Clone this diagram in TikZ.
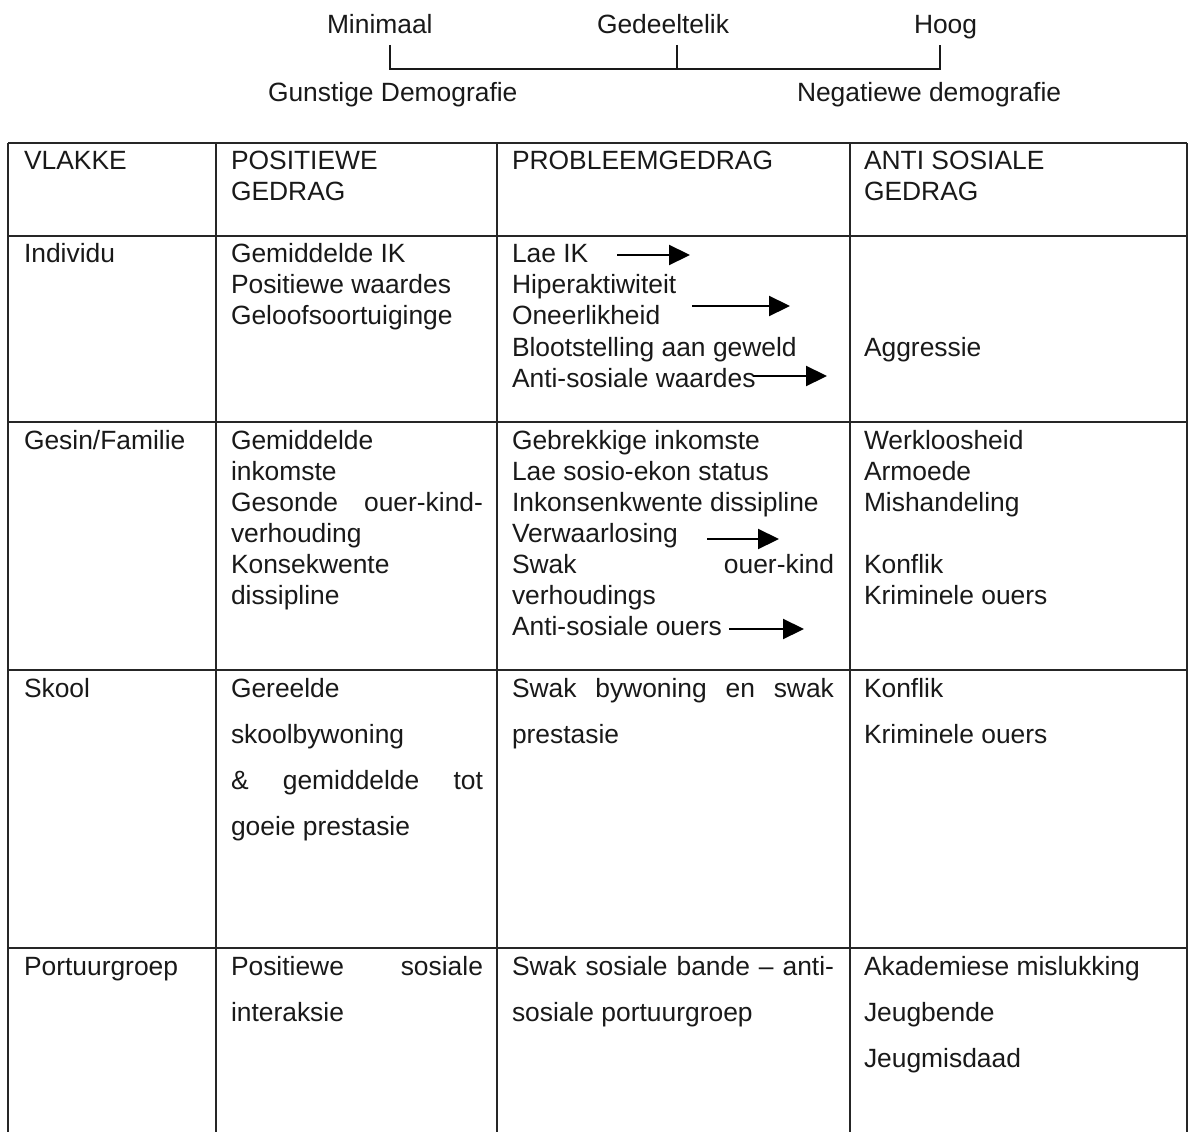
\documentclass[tikz,border=0pt]{standalone}
\usepackage{fontspec}
\setmainfont{Liberation Sans}
\usetikzlibrary{arrows.meta}
\tikzset{
  cell/.style={anchor=base west, inner sep=0pt, outer sep=0pt, font=\fontsize{26.4}{31}\selectfont, text=black!90},
  grid/.style={line width=1.6pt, black!85},
  scaleline/.style={line width=2pt, black!90},
  arr/.style={line width=2.2pt, black, -{Triangle[length=21pt,width=20pt]}},
}
\newcommand\celllines[5]{%
  \foreach \t [count=\i] in {#5}{\node[cell] (#1-\i) at (#2,{#3+(\i-1)*#4}) {\t};}}
\begin{document}
\begin{tikzpicture}[x=1pt,y=-1pt]
\useasboundingbox[fill=white] (0,0) rectangle (1195,1132);

% --- scale at the top ---
\node[cell] (min) at (327,33.5) {Minimaal};
\node[cell] (ged) at (597,33.5) {Gedeeltelik};
\node[cell] (hoog) at (914,33.5) {Hoog};
\node[cell] (gun) at (268,101.5) {Gunstige Demografie};
\node[cell] (neg) at (797,101.5) {Negatiewe demografie};
\coordinate (sL) at (390,69);
\coordinate (sC) at (677,69);
\coordinate (sR) at (940,69);
\coordinate (sLt) at (390,45);
\coordinate (sCt) at (677,45);
\coordinate (sRt) at (940,45);
\draw[scaleline] (sLt) -- (sL) -- (sR) -- (sRt);
\draw[scaleline] (sCt) -- (sC);

% --- table grid ---
\foreach \yy in {143,236,422,670,948}{\draw[grid] (8,\yy) -- (1187,\yy);}
\foreach \xx in {8,216,497,850,1187}{\draw[grid] (\xx,143) -- (\xx,1132);}

% --- header ---
\celllines{h1}{24}{169.5}{31}{VLAKKE}
\celllines{h2}{231}{169.5}{31}{POSITIEWE,GEDRAG}
\celllines{h3}{512}{169.5}{31}{PROBLEEMGEDRAG}
\celllines{h4}{864}{169.5}{31}{ANTI SOSIALE,GEDRAG}

% --- Individu ---
\celllines{i1}{24}{262.5}{31.2}{Individu}
\celllines{i2}{231}{262.5}{31.2}{Gemiddelde IK,Positiewe waardes,Geloofsoortuiginge}
\celllines{i3}{512}{262.5}{31.2}{Lae IK,Hiperaktiwiteit,Oneerlikheid,Blootstelling aan geweld,Anti-sosiale waardes}
\celllines{i4}{864}{356.1}{31.2}{Aggressie}

% --- Gesin/Familie ---
\celllines{g1}{24}{449.5}{31}{Gesin/Familie}
\celllines{g2}{231}{449.5}{31}{Gemiddelde,inkomste,{\hbox to 252pt{Gesonde\hfill ouer-kind-}},verhouding,Konsekwente,dissipline}
\celllines{g3}{512}{449.5}{31}{Gebrekkige inkomste,Lae sosio-ekon status,Inkonsenkwente dissipline,Verwaarlosing,{\hbox to 322pt{Swak\hfill ouer-kind}},verhoudings,Anti-sosiale ouers}
\celllines{g4}{864}{449.5}{31}{Werkloosheid,Armoede,Mishandeling}
\celllines{g5}{864}{573.5}{31}{Konflik,Kriminele ouers}

% --- Skool ---
\celllines{s1}{24}{697.5}{46}{Skool}
\celllines{s2}{231}{697.5}{46}{Gereelde,skoolbywoning,{\hbox to 252pt{\&\hfill gemiddelde\hfill tot}},goeie prestasie}
\celllines{s3}{512}{697.5}{46}{{\hbox to 322pt{Swak\hfill bywoning\hfill en\hfill swak}},prestasie}
\celllines{s4}{864}{697.5}{46}{Konflik,Kriminele ouers}

% --- Portuurgroep ---
\celllines{p1}{24}{975.5}{46}{Portuurgroep}
\celllines{p2}{231}{975.5}{46}{{\hbox to 252pt{Positiewe\hfill sosiale}},interaksie}
\celllines{p3}{512}{975.5}{46}{{\hbox to 322pt{Swak\hfill sosiale\hfill bande\hfill –\hfill anti-}},sosiale portuurgroep}
\celllines{p4}{864}{975.5}{46}{Akademiese mislukking,Jeugbende,Jeugmisdaad}

% --- arrows ---
\coordinate (a1s) at (617,255);  \coordinate (a1e) at (690,255);
\coordinate (a2s) at (692,306);  \coordinate (a2e) at (790,306);
\coordinate (a3s) at (753,376);  \coordinate (a3e) at (827,376);
\coordinate (a4s) at (707,539);  \coordinate (a4e) at (779,539);
\coordinate (a5s) at (729,629);  \coordinate (a5e) at (804,629);
\draw[arr] (a1s) -- (a1e);
\draw[arr] (a2s) -- (a2e);
\draw[arr] (a3s) -- (a3e);
\draw[arr] (a4s) -- (a4e);
\draw[arr] (a5s) -- (a5e);
\end{tikzpicture}
\end{document}
